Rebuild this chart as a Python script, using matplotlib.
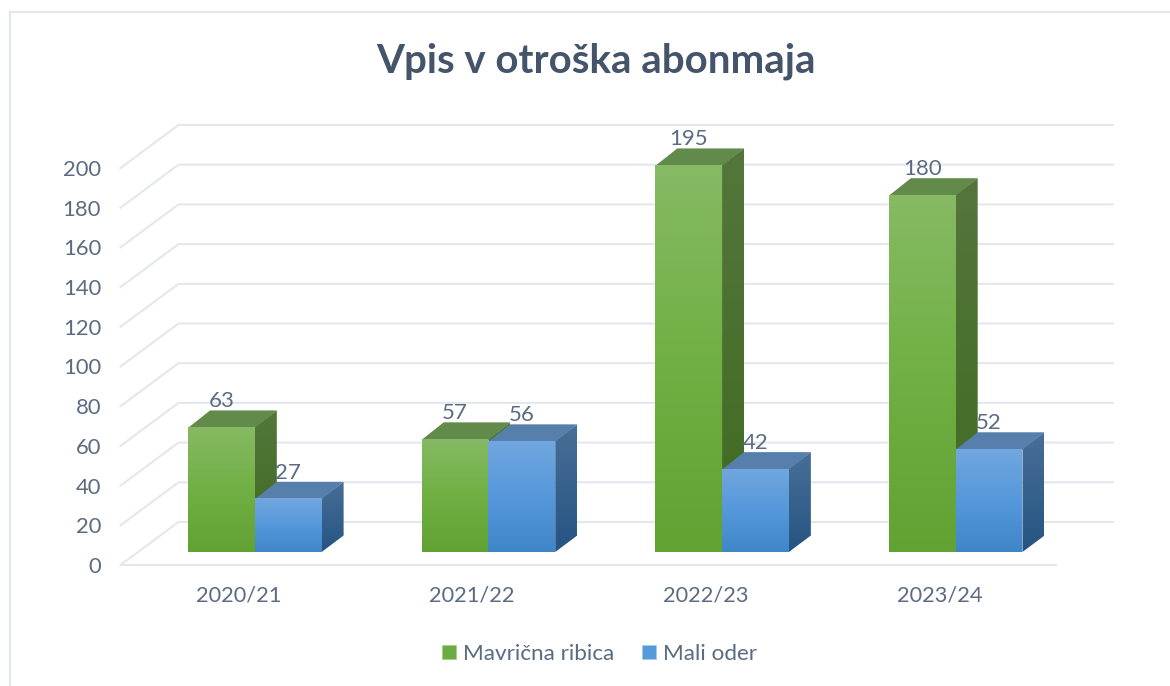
import numpy as np
import matplotlib
matplotlib.use("Agg")
import matplotlib.pyplot as plt
from matplotlib.colors import LinearSegmentedColormap
from matplotlib.lines import Line2D
from matplotlib.patches import Patch, Polygon
from matplotlib.transforms import ScaledTranslation

plt.rcParams['font.family'] = ['Lato', 'DejaVu Sans']

title = "Vpis v otroška abonmaja"
categories = ["2020/21", "2021/22", "2022/23", "2023/24"]
ribica = [63, 57, 195, 180]
oder = [27, 56, 42, 52]
name_ribica = "Mavrična ribica"
name_oder = "Mali oder"
yticks = list(range(0, 201, 20))

TXT = '#5A6B82'
GRID = '#E3E7EE'
W, H = 1170, 686
fig = plt.figure(figsize=(W/100, H/100), dpi=100, facecolor='white')
L, R, B, T = 120.5, 1055, 565, 168
ax = fig.add_axes([L/W, 1-B/H, (R-L)/W, (B-T)/H])
ax.set_xlim(-0.5, 3.5)
ax.set_ylim(0, 200)
ax.patch.set_alpha(0)
for s in ax.spines.values():
    s.set_visible(False)

px_x = 4/(R-L)      # data units per pixel
px_y = 200/(B-T)

# chart frame
fig.add_artist(Line2D([9.5/W, 9.5/W], [0, 1-11.5/H], color=GRID, lw=1.6))
fig.add_artist(Line2D([9.5/W, 1], [1-11.5/H, 1-11.5/H], color=GRID, lw=1.6))

# walls
WALL_DX, WALL_DY = 58*px_x, 43*px_y
x0, x1 = -0.5, 3.5
for v in yticks:
    ax.plot([x0, x0+WALL_DX, x1+WALL_DX], [v, v+WALL_DY, v+WALL_DY],
            color=GRID, lw=1.5, clip_on=False, zorder=1, solid_joinstyle='miter')
ax.plot([x0, x1+1.0*px_x], [0, 0], color=GRID, lw=1.5, clip_on=False, zorder=1)

BAR_W = 66.8*px_x
BASE_DX, BASE_DY = 17.5*px_x, 13*px_y
D_X, D_Y = 22*px_x, 16.5*px_y

STYLES = {
    'g': dict(front=['#87BA64', '#70B044', '#62A233'], side=['#54763C', '#3F6B20'], top='#628A4B'),
    'b': dict(front=['#72A7DF', '#5598DB', '#3F86C9'], side=['#486F97', '#255482'], top='#5680AB'),
}


def grad(poly_pts, colors, z):
    pts = np.array(poly_pts)
    cmap = LinearSegmentedColormap.from_list('c', colors)
    g = np.linspace(0, 1, 256).reshape(-1, 1)
    im = ax.imshow(g, cmap=cmap, aspect='auto', origin='upper', interpolation='bilinear', zorder=z,
                   extent=[pts[:, 0].min(), pts[:, 0].max(), pts[:, 1].min(), pts[:, 1].max()])
    im.set_clip_path(Polygon(pts, closed=True, transform=ax.transData))
    im.set_clip_box(fig.bbox)
    return im


def bar3d(xc, value, off, style, z):
    st = STYLES[style]
    l = xc + BASE_DX + off*BAR_W
    r = l + BAR_W
    b = BASE_DY
    t = b + value
    side = [(r, b), (r+D_X, b+D_Y), (r+D_X, t+D_Y), (r, t)]
    grad(side, st['side'], z)
    ax.add_patch(Polygon([(l, t-0.5), (r, t-0.5), (r+D_X, t+D_Y), (l+D_X, t+D_Y)], closed=True,
                         fc=st['top'], ec='none', zorder=z, clip_on=False))
    grad([(l, b), (r, b), (r, t), (l, t)], st['front'], z+0.1)
    ax.text(l+BAR_W/2, t+D_Y+9*px_y, str(value), ha='center', va='center', color=TXT,
            fontsize=16, zorder=8, clip_on=False)


for i in range(len(categories)):
    bar3d(i, ribica[i], -1, 'g', 3+i*2)
    bar3d(i, oder[i], 0, 'b', 4+i*2)

ax.set_xlim(-0.5, 3.5)
ax.set_ylim(0, 200)

ax.set_xticks(range(len(categories)))
ax.set_xticklabels(categories, fontsize=15.7, color=TXT)
ax.set_yticks(yticks)
ax.set_yticklabels([str(v) for v in yticks], fontsize=15.8, color=TXT)
ax.tick_params(axis='y', length=0, pad=14)
ax.tick_params(axis='x', length=0, pad=15)
for lbl in ax.get_xticklabels():
    lbl.set_transform(lbl.get_transform() + ScaledTranslation(1.2/100, 0, fig.dpi_scale_trans))

fig.text(595.5/W, 1-61.5/H, title, ha='center', va='center', fontsize=29, fontweight='bold', color='#44546A')

handles = [Patch(fc='#6CAB40', ec='#A5CF8A', lw=0.5), Patch(fc='#559ADB', ec='#A6CBEE', lw=0.5)]
fig.legend(handles, [name_ribica, name_oder], loc='center', bbox_to_anchor=(599.5/W, 1-654/H), ncol=2,
           frameon=False, fontsize=16.2, labelcolor=TXT, handlelength=0.62, handleheight=0.62,
           handletextpad=0.31, columnspacing=1.24)

fig.savefig('out.png', dpi=100)
